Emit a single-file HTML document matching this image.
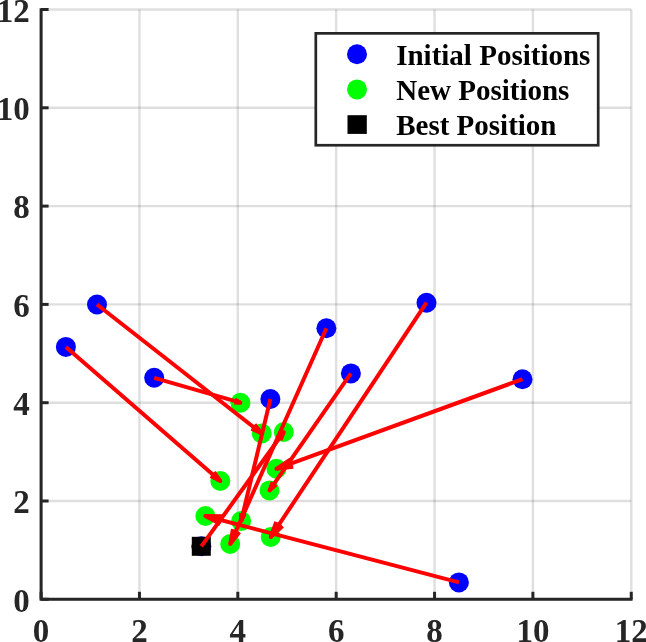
<!DOCTYPE html>
<html><head><meta charset="utf-8"><style>
html,body{margin:0;padding:0;background:#fff;overflow:hidden}
svg{display:block;will-change:transform}
.t{font-family:"Liberation Serif",serif;font-weight:bold;font-size:33px;fill:#262626}
.l{font-family:"Liberation Serif",serif;font-weight:bold;font-size:29px;fill:#000}
</style></head><body>
<svg width="646" height="642" viewBox="0 0 646 642">
<line x1="41.10" y1="9.50" x2="41.10" y2="599.30" stroke="#262626" stroke-opacity="0.15" stroke-width="2.4"/>
<line x1="41.10" y1="599.30" x2="631.26" y2="599.30" stroke="#262626" stroke-opacity="0.15" stroke-width="2.4"/>
<line x1="139.46" y1="9.50" x2="139.46" y2="599.30" stroke="#262626" stroke-opacity="0.15" stroke-width="2.4"/>
<line x1="41.10" y1="501.00" x2="631.26" y2="501.00" stroke="#262626" stroke-opacity="0.15" stroke-width="2.4"/>
<line x1="237.82" y1="9.50" x2="237.82" y2="599.30" stroke="#262626" stroke-opacity="0.15" stroke-width="2.4"/>
<line x1="41.10" y1="402.70" x2="631.26" y2="402.70" stroke="#262626" stroke-opacity="0.15" stroke-width="2.4"/>
<line x1="336.18" y1="9.50" x2="336.18" y2="599.30" stroke="#262626" stroke-opacity="0.15" stroke-width="2.4"/>
<line x1="41.10" y1="304.40" x2="631.26" y2="304.40" stroke="#262626" stroke-opacity="0.15" stroke-width="2.4"/>
<line x1="434.54" y1="9.50" x2="434.54" y2="599.30" stroke="#262626" stroke-opacity="0.15" stroke-width="2.4"/>
<line x1="41.10" y1="206.10" x2="631.26" y2="206.10" stroke="#262626" stroke-opacity="0.15" stroke-width="2.4"/>
<line x1="532.90" y1="9.50" x2="532.90" y2="599.30" stroke="#262626" stroke-opacity="0.15" stroke-width="2.4"/>
<line x1="41.10" y1="107.80" x2="631.26" y2="107.80" stroke="#262626" stroke-opacity="0.15" stroke-width="2.4"/>
<line x1="631.26" y1="9.50" x2="631.26" y2="599.30" stroke="#262626" stroke-opacity="0.15" stroke-width="2.4"/>
<line x1="41.10" y1="9.50" x2="631.26" y2="9.50" stroke="#262626" stroke-opacity="0.15" stroke-width="2.4"/>
<path d="M41.10,8.30 V599.30 H632.56" fill="none" stroke="#262626" stroke-width="3" stroke-linecap="butt" stroke-linejoin="miter"/>
<line x1="41.10" y1="599.30" x2="41.10" y2="591.80" stroke="#262626" stroke-width="3"/>
<line x1="41.10" y1="599.30" x2="48.60" y2="599.30" stroke="#262626" stroke-width="3"/>
<line x1="139.46" y1="599.30" x2="139.46" y2="591.80" stroke="#262626" stroke-width="3"/>
<line x1="41.10" y1="501.00" x2="48.60" y2="501.00" stroke="#262626" stroke-width="3"/>
<line x1="237.82" y1="599.30" x2="237.82" y2="591.80" stroke="#262626" stroke-width="3"/>
<line x1="41.10" y1="402.70" x2="48.60" y2="402.70" stroke="#262626" stroke-width="3"/>
<line x1="336.18" y1="599.30" x2="336.18" y2="591.80" stroke="#262626" stroke-width="3"/>
<line x1="41.10" y1="304.40" x2="48.60" y2="304.40" stroke="#262626" stroke-width="3"/>
<line x1="434.54" y1="599.30" x2="434.54" y2="591.80" stroke="#262626" stroke-width="3"/>
<line x1="41.10" y1="206.10" x2="48.60" y2="206.10" stroke="#262626" stroke-width="3"/>
<line x1="532.90" y1="599.30" x2="532.90" y2="591.80" stroke="#262626" stroke-width="3"/>
<line x1="41.10" y1="107.80" x2="48.60" y2="107.80" stroke="#262626" stroke-width="3"/>
<line x1="631.26" y1="599.30" x2="631.26" y2="591.80" stroke="#262626" stroke-width="3"/>
<line x1="41.10" y1="9.50" x2="48.60" y2="9.50" stroke="#262626" stroke-width="3"/>
<text x="41.10" y="641.5" text-anchor="middle" class="t">0</text>
<text x="29.8" y="611.60" text-anchor="end" class="t">0</text>
<text x="139.46" y="641.5" text-anchor="middle" class="t">2</text>
<text x="29.8" y="513.30" text-anchor="end" class="t">2</text>
<text x="237.82" y="641.5" text-anchor="middle" class="t">4</text>
<text x="29.8" y="415.00" text-anchor="end" class="t">4</text>
<text x="336.18" y="641.5" text-anchor="middle" class="t">6</text>
<text x="29.8" y="316.70" text-anchor="end" class="t">6</text>
<text x="434.54" y="641.5" text-anchor="middle" class="t">8</text>
<text x="29.8" y="218.40" text-anchor="end" class="t">8</text>
<text x="532.90" y="641.5" text-anchor="middle" class="t">10</text>
<text x="29.8" y="120.10" text-anchor="end" class="t">10</text>
<text x="631.26" y="641.5" text-anchor="middle" class="t">12</text>
<text x="29.8" y="21.80" text-anchor="end" class="t">12</text>
<circle cx="97" cy="304.5" r="10" fill="#0000ff"/>
<circle cx="65.9" cy="346.9" r="10" fill="#0000ff"/>
<circle cx="154.2" cy="377.8" r="10" fill="#0000ff"/>
<circle cx="270.4" cy="399" r="10" fill="#0000ff"/>
<circle cx="326.4" cy="328.3" r="10" fill="#0000ff"/>
<circle cx="350.9" cy="373.4" r="10" fill="#0000ff"/>
<circle cx="426.5" cy="302.7" r="10" fill="#0000ff"/>
<circle cx="522.5" cy="379.2" r="10" fill="#0000ff"/>
<circle cx="458.9" cy="582.4" r="10" fill="#0000ff"/>
<circle cx="201.3" cy="546.3" r="10" fill="#0000ff"/>
<circle cx="240.4" cy="402.7" r="10" fill="#00ff00"/>
<circle cx="220.3" cy="481" r="10" fill="#00ff00"/>
<circle cx="261.7" cy="433.4" r="10" fill="#00ff00"/>
<circle cx="283.8" cy="432" r="10" fill="#00ff00"/>
<circle cx="276.4" cy="468.8" r="10" fill="#00ff00"/>
<circle cx="269.5" cy="490.4" r="10" fill="#00ff00"/>
<circle cx="205.4" cy="516" r="10" fill="#00ff00"/>
<circle cx="241.1" cy="521.1" r="10" fill="#00ff00"/>
<circle cx="230.2" cy="544" r="10" fill="#00ff00"/>
<circle cx="270.7" cy="537" r="10" fill="#00ff00"/>
<rect x="191.8" y="536.8" width="19" height="19" fill="#000"/>
<line x1="97" y1="304.5" x2="261.7" y2="433.4" stroke="#ff0000" stroke-width="4"/>
<line x1="65.9" y1="346.9" x2="220.3" y2="481" stroke="#ff0000" stroke-width="4"/>
<line x1="154.2" y1="377.8" x2="240.4" y2="402.7" stroke="#ff0000" stroke-width="4"/>
<line x1="270.4" y1="399" x2="241.1" y2="521.1" stroke="#ff0000" stroke-width="4"/>
<line x1="326.4" y1="328.3" x2="230.2" y2="544" stroke="#ff0000" stroke-width="4"/>
<line x1="350.9" y1="373.4" x2="269.5" y2="490.4" stroke="#ff0000" stroke-width="4"/>
<line x1="426.5" y1="302.7" x2="270.7" y2="537" stroke="#ff0000" stroke-width="4"/>
<line x1="522.5" y1="379.2" x2="276.4" y2="468.8" stroke="#ff0000" stroke-width="4"/>
<line x1="458.9" y1="582.4" x2="205.4" y2="516" stroke="#ff0000" stroke-width="4"/>
<line x1="201.3" y1="546.3" x2="283.8" y2="432" stroke="#ff0000" stroke-width="4"/>
<path d="M251.41,428.70 L261.7,433.4 L254.66,424.54 " fill="none" stroke="#ff0000" stroke-width="4" stroke-linejoin="round" stroke-linecap="butt"/>
<path d="M210.63,475.97 L220.3,481 L213.97,472.13 " fill="none" stroke="#ff0000" stroke-width="4" stroke-linejoin="round" stroke-linecap="butt"/>
<path d="M234.15,402.41 L240.4,402.7 L234.96,399.61 " fill="none" stroke="#ff0000" stroke-width="4" stroke-linejoin="round" stroke-linecap="butt"/>
<path d="M241.10,513.00 L241.1,521.1 L244.78,513.88 " fill="none" stroke="#ff0000" stroke-width="4" stroke-linejoin="round" stroke-linecap="butt"/>
<path d="M232.95,529.24 L230.2,544 L239.35,532.09 " fill="none" stroke="#ff0000" stroke-width="4" stroke-linejoin="round" stroke-linecap="butt"/>
<path d="M272.76,482.04 L269.5,490.4 L276.20,484.43 " fill="none" stroke="#ff0000" stroke-width="4" stroke-linejoin="round" stroke-linecap="butt"/>
<path d="M276.24,521.87 L270.7,537 L282.51,526.03 " fill="none" stroke="#ff0000" stroke-width="4" stroke-linejoin="round" stroke-linecap="butt"/>
<path d="M290.55,459.43 L276.4,468.8 L293.26,466.88 " fill="none" stroke="#ff0000" stroke-width="4" stroke-linejoin="round" stroke-linecap="butt"/>
<path d="M222.36,516.35 L205.4,516 L220.36,524.01 " fill="none" stroke="#ff0000" stroke-width="4" stroke-linejoin="round" stroke-linecap="butt"/>
<path d="M280.42,440.23 L283.8,432 L277.06,437.80 " fill="none" stroke="#ff0000" stroke-width="4" stroke-linejoin="round" stroke-linecap="butt"/>
<rect x="315.8" y="33.35" width="282.4" height="111.9" fill="#fff" stroke="#262626" stroke-width="2.7"/>
<circle cx="357" cy="54.2" r="10" fill="#0000ff"/>
<circle cx="357" cy="89.4" r="10" fill="#00ff00"/>
<rect x="347.5" y="115.2" width="19.3" height="18.7" fill="#000"/>
<text x="396.2" y="64.5" class="l">Initial Positions</text>
<text x="396.2" y="100.3" class="l">New Positions</text>
<text x="396.2" y="135.4" class="l">Best Position</text>
</svg>
</body></html>
